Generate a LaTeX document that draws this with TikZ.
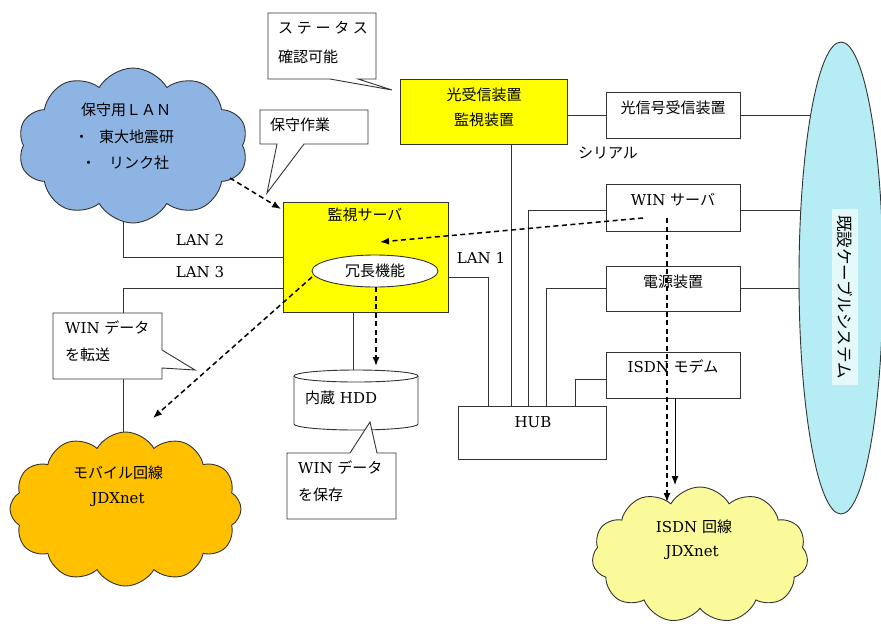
\documentclass[tikz,border=0pt]{standalone}
\usepackage{fontspec}
\setmainfont{DejaVu Serif}
\newfontfamily\jp{Noto Sans CJK JP}
\usetikzlibrary{shapes.symbols,shapes.geometric,arrows.meta}

\definecolor{srvyellow}{HTML}{FFFF00}
\definecolor{lanblue}{HTML}{8EB4E3}
\definecolor{mobileorange}{HTML}{FFC000}
\definecolor{isdnyellow}{HTML}{FAFA9A}
\definecolor{cablecyan}{HTML}{B6EDF5}
\definecolor{linegray}{HTML}{333333}

\pgfdeclarelayer{paper}
\pgfdeclarelayer{wiring}
\pgfsetlayers{paper,wiring,main}

\tikzset{
  every node/.style={font=\fontsize{15}{18}\selectfont, inner sep=0pt, text=black},
  jplabel/.style={font=\fontsize{15}{18}\selectfont\jp},
  wire/.style={draw=linegray, line width=0.8pt},
  devbox/.style={draw=linegray, line width=0.9pt, fill=white},
  ybox/.style={draw=linegray, line width=0.9pt, fill=srvyellow},
  callout/.style={draw=linegray, line width=0.9pt, fill=white, line join=miter},
  flow/.style={line width=1.5pt, dash pattern=on 5pt off 3.5pt, -{Latex[length=9pt,width=7pt]}},
  solidarrow/.style={draw=black, line width=1pt, -{Latex[length=9pt,width=7pt]}},
  cloudshape/.style={cloud, cloud puff arc=120, cloud ignores aspect, draw=linegray, line width=0.9pt},
}

\begin{document}
\begin{tikzpicture}[x=1pt,y=-1pt]
\begin{pgfonlayer}{paper}
  \fill[white] (0,0) rectangle (881,625);
\end{pgfonlayer}
\useasboundingbox (0,0) rectangle (881,625);

% ---- networks (clouds) ----
\node[cloudshape, fill=lanblue, cloud puffs=10, minimum width=230pt, minimum height=155pt] (maint) at (133,145.5) {};
\node[cloudshape, fill=mobileorange, cloud puffs=12, minimum width=231pt, minimum height=154pt] (mobile) at (125.5,509) {};
\node[cloudshape, fill=isdnyellow, cloud puffs=11, minimum width=216pt, minimum height=136pt] (isdnnet) at (700,555) {};

% ---- existing cable system ----
\node[ellipse, draw=linegray, line width=0.9pt, fill=cablecyan, minimum width=84pt, minimum height=472pt] (cable) at (841,278) {};
\node[rotate=-90, fill=cablecyan!35, inner xsep=6pt, inner ysep=5pt, font=\fontsize{16.5}{18}\selectfont\jp] (cablelabel) at (845,297) {既設ケーブルシステム};

% ---- equipment ----
\node[ybox, minimum width=165pt, minimum height=110pt] (srv) at (365.5,257) {};
\node[ybox, minimum width=167pt, minimum height=65pt] (mon) at (483.5,111.5) {};
\node[devbox, minimum width=134pt, minimum height=46pt] (opt) at (673,115) {};
\node[devbox, minimum width=134pt, minimum height=47pt] (win) at (673,207.5) {};
\node[devbox, minimum width=134pt, minimum height=45pt] (pwr) at (673,288.5) {};
\node[devbox, minimum width=134pt, minimum height=46pt] (modem) at (673,375) {};
\node[devbox, minimum width=148pt, minimum height=53pt] (hub) at (532,432.5) {};
\node[ellipse, draw=linegray, line width=0.9pt, fill=white, minimum width=126pt, minimum height=32pt] (redund) at (375,271) {};

% internal disk (cylinder)
\draw[devbox] (294,376) -- (294,424)
  arc[start angle=180, end angle=0, x radius=62, y radius=6] -- (418,376)
  arc[start angle=0, end angle=-180, x radius=62, y radius=6] -- cycle;
\draw[devbox, fill=none] (294,376) arc[start angle=180, end angle=0, x radius=62, y radius=6];
\coordinate (hddtop) at (353,370);
\coordinate (hddin) at (376,366);

% ---- wiring ----
\coordinate (lan2x) at (123,257);
\coordinate (lan3x) at (123,288);
\coordinate (lan1x) at (488,277);
\coordinate (monx) at (511,0);
\coordinate (winx) at (528,0);
\coordinate (pwrx) at (546,0);
\coordinate (modx) at (575,0);
\begin{pgfonlayer}{wiring}
  \draw[wire] (lan2x |- maint.center) -- (lan2x) -- (lan2x -| srv.west);
  \draw[wire] (lan3x -| srv.west) -- (lan3x) -- (lan3x |- mobile.center);
  \draw[wire] (lan1x -| srv.east) -- (lan1x) -- (lan1x |- hub.north);
  \draw[wire] (monx |- mon.south) -- (monx |- hub.north);
  \draw[wire] (opt.west -| mon.east) -- (opt.west);
  \draw[wire] (opt.east) -- (opt.east -| cable.center);
  \draw[wire] ([yshift=-2.5pt]win.west) -| (winx |- hub.north);
  \draw[wire] ([yshift=-2.5pt]win.east) -- ([yshift=-2.5pt]win.east -| cable.center);
  \draw[wire] (pwr.west) -| (pwrx |- hub.north);
  \draw[wire] (pwr.east) -- (pwr.east -| cable.center);
  \draw[wire] ([yshift=-4pt]modem.west) -| (modx |- hub.north);
  \draw[wire] (hddtop |- srv.south) -- (hddtop);
\end{pgfonlayer}

% ---- callouts ----
\path[callout] (268,13) -- (376,13) -- (376,79) -- (358,79) -- (392,90) -- (330,79) -- (268,79) -- cycle;
\path[callout] (260,110) -- (368,110) -- (368,144) -- (304,144) -- (267,193) -- (277,144) -- (260,144) -- cycle;
\path[callout] (53,313) -- (162,313) -- (162,350) -- (195,370) -- (162,368) -- (162,379) -- (53,379) -- cycle;
\path[callout] (287,453) -- (350,453) -- (370,422) -- (377,453) -- (396,453) -- (396,519) -- (287,519) -- cycle;

% ---- labels ----
\node[jplabel] (t-srv) at (365,215) {監視サーバ};
\node[jplabel] (t-red) at (375,271) {冗長機能};
\node[jplabel] (t-mon1) at (484,95) {光受信装置};
\node[jplabel] (t-mon2) at (484,120) {監視装置};
\node[jplabel] (t-opt) at (673,108) {光信号受信装置};
\node[jplabel] (t-serial) at (608,153) {シリアル};
\node (t-win) at (673,200) {WIN {\jp サーバ}};
\node[jplabel] (t-pwr) at (673,282) {電源装置};
\node (t-modem) at (673,367) {ISDN {\jp モデム}};
\node (t-hub) at (533,422) {HUB};
\node (t-lan1) at (481,258) {LAN 1};
\node (t-lan2) at (200,240) {LAN 2};
\node (t-lan3) at (200,272) {LAN 3};
\node[anchor=west] (t-hdd) at (305,398) {{\jp 内蔵} HDD};

\node[jplabel] (t-lanA) at (126,110) {保守用ＬＡＮ};
\node[jplabel, anchor=west] (t-lanB) at (74,137) {・\hspace{10pt}東大地震研};
\node[jplabel, anchor=west] (t-lanC) at (81,163) {・\hspace{13pt}リンク社};
\node[jplabel] (t-mob1) at (118,473) {モバイル回線};
\node (t-mob2) at (118,500) {JDXnet};
\node (t-isdn1) at (694,527) {ISDN {\jp 回線}};
\node (t-isdn2) at (692,553) {JDXnet};

\node[jplabel, anchor=west] (t-st1) at (278,28) {ス\kern3.7ptテ\kern3.7ptー\kern3.7ptタ\kern3.7ptス};
\node[jplabel, anchor=west] (t-st2) at (278,57) {確認可能};
\node[jplabel, anchor=west] (t-work) at (270,125) {保守作業};
\node[anchor=west] (t-fw1) at (65,328) {WIN {\jp データ}};
\node[jplabel, anchor=west] (t-fw2) at (65,355) {を転送};
\node[anchor=west] (t-sv1) at (298,468) {WIN {\jp データ}};
\node[jplabel, anchor=west] (t-sv2) at (298,495) {を保存};

% ---- data flows ----
\coordinate (maintout) at (230,178);
\coordinate (srvin) at (281,209);
\coordinate (winout) at (643,218);
\coordinate (srvmid) at (380,242);
\coordinate (redout) at (312,277);
\coordinate (mobilein) at (153,418);
\coordinate (windown) at (667,218);
\coordinate (isdnnetin) at (667,502);
\coordinate (modemout) at (675,0);
\coordinate (isdnarr) at (675,485);

\draw[flow] (maintout) -- (srvin);
\draw[flow] (winout) -- (srvmid);
\draw[flow] (redout) -- (mobilein);
\draw[flow] (redund.south -| hddin) -- (hddin);
\draw[flow] (windown) -- (isdnnetin);
\draw[solidarrow] (modemout |- modem.south) -- (isdnarr);
\end{tikzpicture}
\end{document}
